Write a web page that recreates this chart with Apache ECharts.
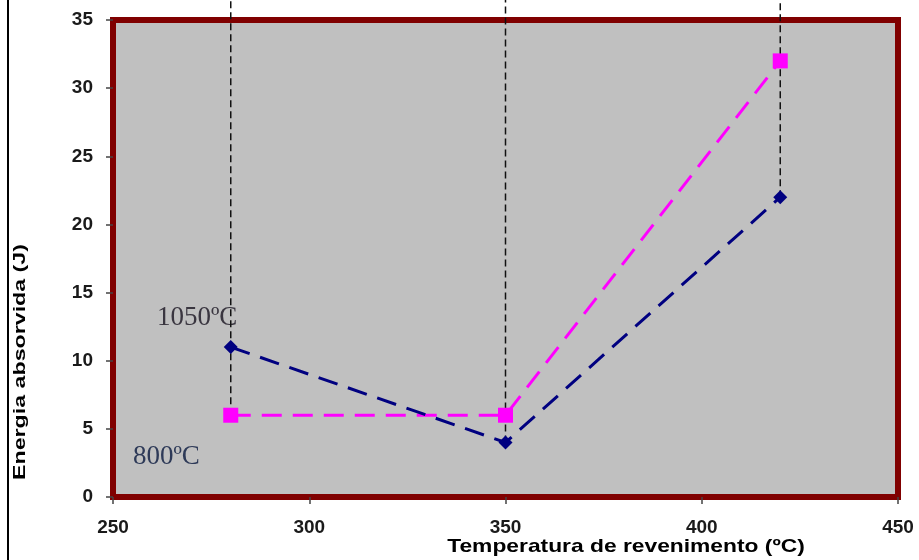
<!DOCTYPE html>
<html>
<head>
<meta charset="utf-8">
<script src="https://cdn.jsdelivr.net/npm/echarts@6/dist/echarts.min.js"></script>
<style>
html,body{margin:0;padding:0;background:#fff;}
#c{width:919px;height:560px;}
</style>
</head>
<body>
<div id="c"></div>
<script>
// Data
const temps = [280, 350, 420];
const energy1050 = [11, 4, 22];
const energy800 = [6, 6, 32];
const seriesNames = ['1050ºC', '800ºC'];
const xTitle = 'Temperatura de revenimento (ºC)';
const yTitle = 'Energia absorvida (J)';
const guideTop = 38;

const chart = echarts.init(document.getElementById('c'), null, {renderer: 'canvas'});

const guideSeries = temps.map((t, i) => ({
  type: 'line',
  data: [[t, Math.min(energy1050[i], energy800[i])], [t, guideTop]],
  symbol: 'none',
  clip: false,
  silent: true,
  z: 1,
  lineStyle: {color: '#111', width: 1.5, type: [7, 4]}
}));

const labelStyle = {color: '#1a1a1a', fontSize: 19, fontWeight: 'bold', fontFamily: 'Liberation Sans, Arial'};

const option = {
  animation: false,
  backgroundColor: '#fff',
  grid: {
    left: 113, right: 21, top: 20, bottom: 63,
    show: true, backgroundColor: '#c0c0c0',
    borderColor: '#800000', borderWidth: 6
  },
  xAxis: {
    type: 'value', min: 250, max: 450, interval: 50,
    axisLine: {show: false},
    axisTick: {show: true, length: 7, lineStyle: {color: '#444', width: 1.5}},
    splitLine: {show: false},
    axisLabel: Object.assign({margin: 21}, labelStyle)
  },
  yAxis: {
    type: 'value', min: 0, max: 35, interval: 5,
    axisLine: {show: false},
    axisTick: {show: true, length: 7, lineStyle: {color: '#444', width: 1.5}},
    splitLine: {show: false},
    axisLabel: Object.assign({margin: 20}, labelStyle)
  },
  series: guideSeries.concat([
    {
      name: seriesNames[0], type: 'line', z: 3,
      data: temps.map((t, i) => [t, energy1050[i]]),
      symbol: 'diamond', symbolSize: 14,
      itemStyle: {color: '#000080'},
      lineStyle: {color: '#000080', width: 3, type: [20, 11]}
    },
    {
      name: seriesNames[1], type: 'line', z: 2,
      data: temps.map((t, i) => [t, energy800[i]]),
      symbol: 'rect', symbolSize: 15,
      itemStyle: {color: '#ff00ff'},
      lineStyle: {color: '#ff00ff', width: 3, type: [20, 11]}
    }
  ]),
  graphic: [
    {type: 'line', shape: {x1: 8, y1: 0, x2: 8, y2: 560}, style: {stroke: '#000', lineWidth: 2}},
    {type: 'text', left: 157, top: 304, style: {text: seriesNames[0], font: '27px "Liberation Serif", "Times New Roman", serif', fill: '#3a3640'}},
    {type: 'text', left: 133, top: 443, style: {text: seriesNames[1], font: '27px "Liberation Serif", "Times New Roman", serif', fill: '#2e3a58'}},
    {type: 'text', x: 626, y: 547, scaleX: 1.2, style: {text: xTitle, font: 'bold 19px "Liberation Sans", Arial', fill: '#000', align: 'center', verticalAlign: 'middle'}},
    {type: 'text', x: 21, y: 362, rotation: Math.PI / 2, scaleX: 1.45, style: {text: yTitle, font: 'bold 16px "Liberation Sans", Arial', fill: '#000', align: 'center', verticalAlign: 'middle'}}
  ]
};
chart.setOption(option);
</script>
</body>
</html>
